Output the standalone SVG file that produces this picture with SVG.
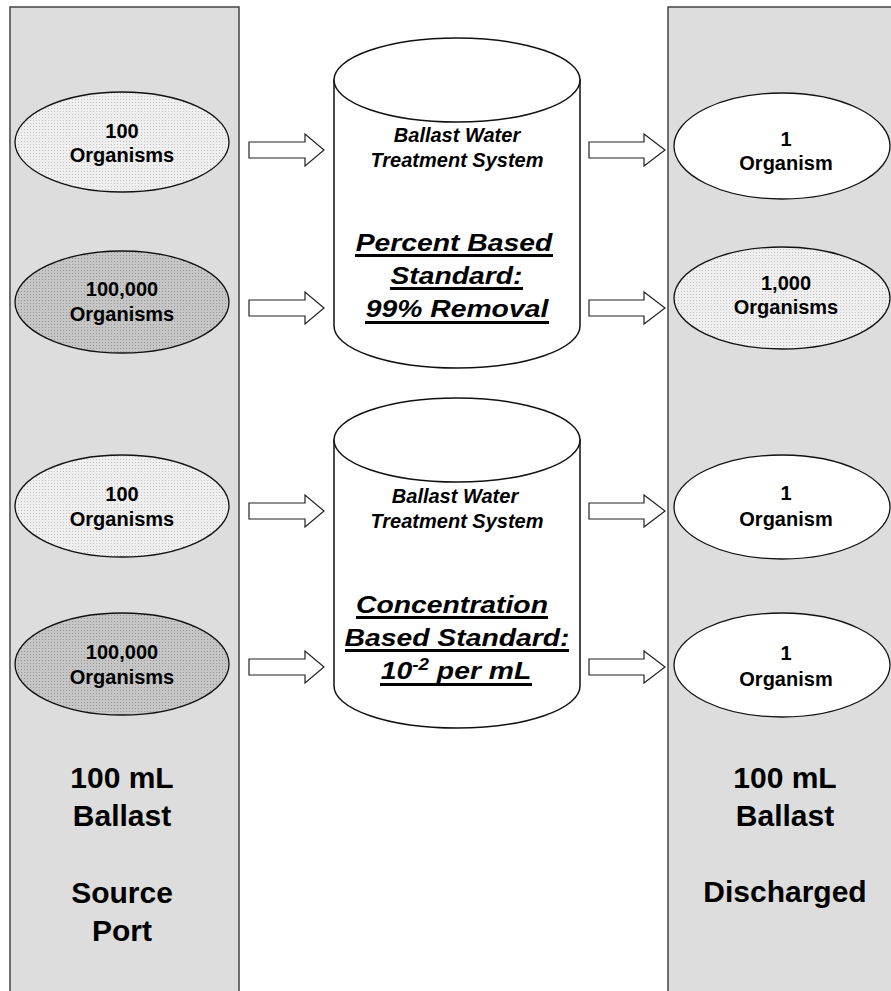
<svg xmlns="http://www.w3.org/2000/svg" width="891" height="991" viewBox="0 0 891 991">
<defs>
<pattern id="dotLight" width="3" height="3" patternUnits="userSpaceOnUse">
<rect width="3" height="3" fill="#efefef"/>
<rect width="1" height="1" fill="#c2c2c2"/>
</pattern>
<pattern id="dotDark" width="3" height="3" patternUnits="userSpaceOnUse">
<rect width="3" height="3" fill="#c6c6c6"/>
<rect width="1" height="1" fill="#959595"/>
</pattern>
</defs>
<style>
.panel{fill:#dddddd;stroke:#444;stroke-width:1.5}
.ell{stroke:#111;stroke-width:1.3}
.light{fill:url(#dotLight)}
.dark{fill:url(#dotDark)}
.white{fill:#fff}
.cyl{fill:#fff;stroke:#111;stroke-width:1.5}
.arrow{fill:#fff;stroke:#222;stroke-width:1.2}
.t{font-family:"Liberation Sans",Arial,sans-serif;font-weight:bold;text-anchor:middle;fill:#000}
.s20{font-size:20px}
.s30{font-size:30px}
.it{font-style:italic}
.big{font-size:24px;font-style:italic}
.ul{fill:#000}
</style>

<g id="source-panel">
<rect class="panel" x="10" y="7" width="229" height="992"/>
<text class="t s30" x="122" y="788">100 mL</text>
<text class="t s30" x="122" y="826">Ballast</text>
<text class="t s30" x="122" y="903">Source</text>
<text class="t s30" x="122" y="941">Port</text>
</g>

<g id="discharge-panel">
<rect class="panel" x="668" y="7" width="240" height="992"/>
<text class="t s30" x="785" y="788">100 mL</text>
<text class="t s30" x="785" y="826">Ballast</text>
<text class="t s30" x="785" y="902">Discharged</text>
</g>

<g id="src1">
<ellipse class="ell light" cx="122" cy="142" rx="107" ry="50"/>
<text class="t s20" x="122" y="138">100</text>
<text class="t s20" x="122" y="162">Organisms</text>
</g>
<g id="src2">
<ellipse class="ell dark" cx="122" cy="302" rx="107" ry="51"/>
<text class="t s20" x="122" y="296">100,000</text>
<text class="t s20" x="122" y="321">Organisms</text>
</g>
<g id="src3">
<ellipse class="ell light" cx="122" cy="506" rx="107" ry="51"/>
<text class="t s20" x="122" y="501">100</text>
<text class="t s20" x="122" y="526">Organisms</text>
</g>
<g id="src4">
<ellipse class="ell dark" cx="122" cy="664" rx="107" ry="51"/>
<text class="t s20" x="122" y="659">100,000</text>
<text class="t s20" x="122" y="684">Organisms</text>
</g>

<g id="out1">
<ellipse class="ell white" cx="782" cy="146" rx="108" ry="53"/>
<text class="t s20" x="786" y="146">1</text>
<text class="t s20" x="786" y="170">Organism</text>
</g>
<g id="out2">
<ellipse class="ell light" cx="782" cy="298" rx="108" ry="51"/>
<text class="t s20" x="786" y="290">1,000</text>
<text class="t s20" x="786" y="314">Organisms</text>
</g>
<g id="out3">
<ellipse class="ell white" cx="782" cy="507" rx="108" ry="52"/>
<text class="t s20" x="786" y="500">1</text>
<text class="t s20" x="786" y="526">Organism</text>
</g>
<g id="out4">
<ellipse class="ell white" cx="782" cy="665" rx="108" ry="52"/>
<text class="t s20" x="786" y="660">1</text>
<text class="t s20" x="786" y="686">Organism</text>
</g>

<g id="bwts-percent">
<path class="cyl" d="M334,80 L334,326 A123,42 0 0 0 580,326 L580,80 Z"/>
<ellipse class="cyl" cx="457" cy="80" rx="123" ry="42"/>
<text class="t s20 it" x="457" y="142">Ballast Water</text>
<text class="t s20 it" x="457" y="167">Treatment System</text>
<text class="t big" transform="translate(454,251) scale(1.18,1)">Percent Based</text>
<rect class="ul" x="355" y="254" width="198" height="3"/>
<text class="t big" transform="translate(456.5,284) scale(1.18,1)">Standard:</text>
<rect class="ul" x="390" y="287" width="133" height="3"/>
<text class="t big" transform="translate(457,317) scale(1.18,1)">99% Removal</text>
<rect class="ul" x="365" y="321" width="184" height="3"/>
</g>

<g id="bwts-concentration">
<path class="cyl" d="M334,440 L334,686 A123,42 0 0 0 580,686 L580,440 Z"/>
<ellipse class="cyl" cx="457" cy="440" rx="123" ry="42"/>
<text class="t s20 it" x="455" y="503">Ballast Water</text>
<text class="t s20 it" x="457" y="528">Treatment System</text>
<text class="t big" transform="translate(452,613) scale(1.18,1)">Concentration</text>
<rect class="ul" x="356" y="616" width="192" height="3"/>
<text class="t big" transform="translate(457,646) scale(1.18,1)">Based Standard:</text>
<rect class="ul" x="345" y="649" width="224" height="3"/>
<text class="t big" transform="translate(456,679) scale(1.18,1)">10<tspan font-size="16" dy="-9">-2</tspan><tspan dy="9"> per mL</tspan></text>
<rect class="ul" x="380" y="683" width="152" height="3"/>
</g>

<g id="connectors">
<path class="arrow" d="M249,142 H305 V134 L324,150 L305,166 V158 H249 Z"/>
<path class="arrow" d="M249,300 H305 V292 L324,308 L305,324 V316 H249 Z"/>
<path class="arrow" d="M249,503 H305 V495 L324,511 L305,527 V519 H249 Z"/>
<path class="arrow" d="M249,659 H305 V651 L324,667 L305,683 V675 H249 Z"/>
<path class="arrow" d="M589,142 H644 V134 L665,150 L644,166 V158 H589 Z"/>
<path class="arrow" d="M589,300 H644 V292 L665,308 L644,324 V316 H589 Z"/>
<path class="arrow" d="M589,503 H644 V495 L665,511 L644,527 V519 H589 Z"/>
<path class="arrow" d="M589,659 H644 V651 L665,667 L644,683 V675 H589 Z"/>
</g>
</svg>
